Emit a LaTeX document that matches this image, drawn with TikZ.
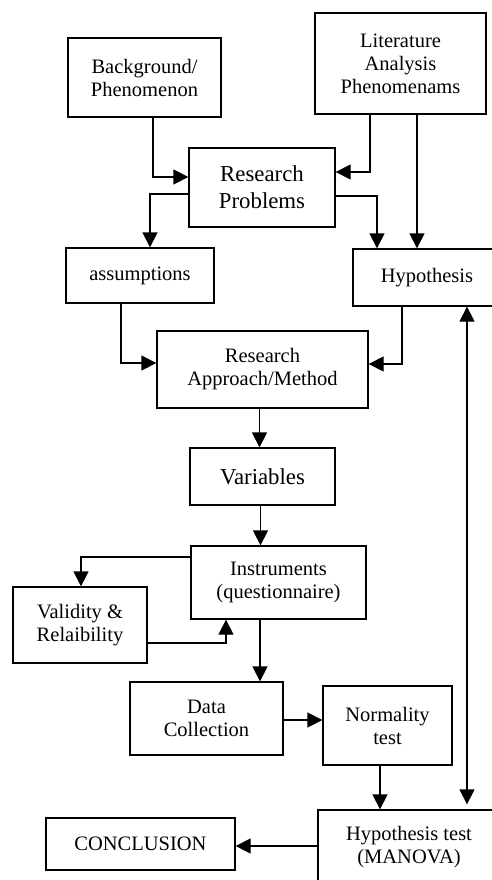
\documentclass[tikz,border=0pt]{standalone}
\usepackage{fontspec}
\setmainfont{Liberation Serif}
\usepackage{tikz}
\usetikzlibrary{arrows.meta}

\begin{document}
\begin{tikzpicture}[x=1pt,y=-1pt,
  box/.style={draw,line width=1.3pt,align=center,inner sep=0pt,
    font=\fontsize{20.5}{23}\selectfont},
  bigbox/.style={box,font=\fontsize{22.8}{27}\selectfont},
  arr/.style={-{Triangle[length=15pt,width=15pt]},line width=1.3pt}]
\useasboundingbox (0,0) rectangle (491,880);
\node[box,minimum width=153pt,minimum height=79pt] (bg) at (144.5,77.5) {Background/\\Phenomenon};
\node[box,minimum width=171pt,minimum height=101pt] (lit) at (400.5,63.5) {Literature\\Analysis\\Phenomenams};
\node[bigbox,minimum width=146pt,minimum height=79pt] (rp) at (262,187.5) {Research\\Problems};
\node[box,minimum width=148pt,minimum height=55pt] (asm) at (140,275.5) {assumptions};
\node[box,minimum width=148pt,minimum height=57pt] (hyp) at (427,277.5) {Hypothesis};
\node[box,minimum width=211pt,minimum height=77pt] (ram) at (262.5,369.5) {Research\\Approach/Method};
\node[bigbox,minimum width=145pt,minimum height=57pt] (var) at (262.5,476.5) {Variables};
\node[box,minimum width=175pt,minimum height=73pt] (ins) at (278.5,582.5) {Instruments\\(questionnaire)};
\node[box,minimum width=134pt,minimum height=76pt] (val) at (80,625) {Validity \&\\Relaibility};
\node[box,minimum width=153pt,minimum height=73pt] (dc) at (206.5,718.5) {Data\\Collection};
\node[box,minimum width=129pt,minimum height=79pt] (norm) at (387.5,725.5) {Normality\\test};
\node[box,minimum width=182pt,minimum height=75pt] (htest) at (409,847.5) {Hypothesis test\\(MANOVA)};
\node[box,minimum width=189pt,minimum height=52pt] (concl) at (140.5,844) {CONCLUSION};

% top part
\draw[arr] ([xshift=8.5pt]bg.south) |- ([yshift=10.5pt]rp.west);
\draw[arr] ([xshift=-30.5pt]lit.south) |- ([yshift=15.5pt]rp.east);
\draw[arr] ([xshift=16.5pt]lit.south) -- ([xshift=16.5pt]lit.south |- hyp.north);
\draw[arr] ([yshift=-8.5pt]rp.east) -| ([xshift=-50pt]hyp.north);
\draw[arr] ([yshift=-6.5pt]rp.west) -| ([xshift=10pt]asm.north);
\draw[arr] ([xshift=-19pt]asm.south) |- ([yshift=6.5pt]ram.west);
\draw[arr] ([xshift=-25pt]hyp.south) |- ([yshift=5.5pt]ram.east);
% middle
\draw[arr] ([xshift=-3pt]ram.south) -- ([xshift=-3pt]var.north);
\draw[arr] ([xshift=-2pt]var.south) -- ([xshift=-2pt]var.south |- ins.north);
\draw[arr] ([yshift=25.5pt]ins.west) -| ([xshift=1pt]val.north);
\draw[arr] ([yshift=-18pt]val.east) -| ([xshift=-52.5pt]ins.south);
\draw[arr] ([xshift=-18.5pt]ins.south) -- ([xshift=-18.5pt]ins.south |- dc.north);
% bottom
\draw[arr] ([yshift=-1.5pt]dc.east) -- ([yshift=-1.5pt]dc.east -| norm.west);
\draw[arr] ([xshift=-7.5pt]norm.south) -- ([xshift=-7.5pt]norm.south |- htest.north);
\draw[{Triangle[length=15pt,width=15pt]}-{Triangle[length=15pt,width=15pt]},line width=1.3pt]
  ([xshift=40pt]hyp.south) -- ([xshift=40pt,yshift=5pt]hyp.south |- htest.north);
\draw[arr] ([yshift=1.5pt]htest.west) -- ([yshift=1.5pt]htest.west -| concl.east);
\end{tikzpicture}
\end{document}
